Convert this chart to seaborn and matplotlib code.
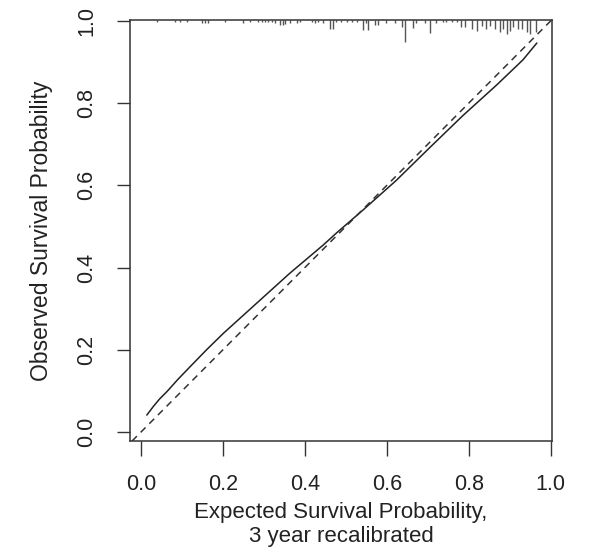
import numpy as np
import pandas as pd
import matplotlib
matplotlib.use("Agg")
import matplotlib.pyplot as plt
import seaborn as sns

# calibration curve (expected vs observed)
expected = [0.014, 0.030, 0.045, 0.063, 0.090, 0.120, 0.160, 0.201, 0.282,
            0.363, 0.445, 0.477, 0.542, 0.623, 0.705, 0.786, 0.868, 0.932,
            0.966]
observed = [0.041, 0.062, 0.080, 0.098, 0.128, 0.159, 0.200, 0.240, 0.313,
            0.386, 0.455, 0.484, 0.540, 0.612, 0.692, 0.770, 0.844, 0.905,
            0.946]

# histogram of predictions drawn as spikes at the top (height in pixels)
rug_x = [0.038, 0.083, 0.095, 0.111, 0.148, 0.156, 0.164, 0.205, 0.250, 0.266,
         0.286, 0.294, 0.302, 0.311, 0.319, 0.327, 0.339, 0.347, 0.351, 0.363,
         0.380, 0.388, 0.416, 0.424, 0.432, 0.445, 0.461, 0.469, 0.477, 0.489,
         0.502, 0.514, 0.526, 0.542, 0.550, 0.554, 0.571, 0.579, 0.599, 0.620,
         0.636, 0.644, 0.664, 0.672, 0.693, 0.705, 0.721, 0.737, 0.745, 0.758,
         0.770, 0.782, 0.790, 0.807, 0.819, 0.831, 0.843, 0.851, 0.863, 0.876,
         0.884, 0.892, 0.900, 0.908, 0.920, 0.929, 0.941, 0.949, 0.965]
rug_h = [2, 2, 2, 2, 3, 3, 3, 2, 3, 2,
         2, 2, 2, 2, 2, 3, 5, 5, 4, 3,
         3, 2, 2, 3, 2, 3, 9, 9, 2, 2,
         2, 2, 2, 10, 3, 10, 5, 5, 3, 3,
         7, 22, 8, 3, 3, 13, 3, 2, 2, 2,
         2, 7, 7, 9, 11, 6, 9, 6, 9, 12,
         9, 14, 11, 7, 9, 9, 12, 14, 12]

x_ticks = [0.0, 0.2, 0.4, 0.6, 0.8, 1.0]
y_ticks = [0.0, 0.2, 0.4, 0.6, 0.8, 1.0]

sns.set_theme(style="white")
plt.rcParams['font.family'] = ['Liberation Sans', 'DejaVu Sans']

df = pd.DataFrame({'expected': expected, 'observed': observed})

fig = plt.figure(figsize=(5.9, 5.52), dpi=100)
ax = fig.add_axes([130 / 590, 111 / 552, 422 / 590, 421 / 552])

sns.lineplot(data=df, x='expected', y='observed', ax=ax, color='#222222',
             linewidth=1.1, sort=True)
ax.axline((0, 0), (1, 1), color='#333333', linewidth=1.1, dashes=(4.5, 3.5))

# spikes hanging from the top of the frame
ymax = 1.002
ax.vlines(rug_x, ymax - np.array(rug_h) / 411.0, ymax, color='#555555',
          linewidth=1.0)

ax.set_xlim(-0.027, 1.003)
ax.set_ylim(-0.022, 1.002)
ax.set_xticks(x_ticks)
ax.set_yticks(y_ticks)
ax.set_xticklabels([f"{v:.1f}" for v in x_ticks])
ax.set_yticklabels([f"{v:.1f}" for v in y_ticks], rotation=90, va='center')

for s in ax.spines.values():
    s.set_color('#333333')
    s.set_linewidth(1.1)

ax.tick_params(axis='x', direction='out', length=10.5, width=1.0,
               color='#333333', pad=13, labelsize=15.5, labelcolor='#222222',
               bottom=True)
ax.tick_params(axis='y', direction='out', length=9.5, width=1.0,
               color='#333333', pad=14, labelsize=15.5, labelcolor='#222222',
               left=True)

ax.set_xlabel("Expected Survival Probability,\n3 year recalibrated",
              fontsize=16, color='#222222', labelpad=5, linespacing=1.2)
ax.set_ylabel("Observed Survival Probability", fontsize=16.5,
              color='#222222', labelpad=17)

fig.savefig("out.png", dpi=100)
